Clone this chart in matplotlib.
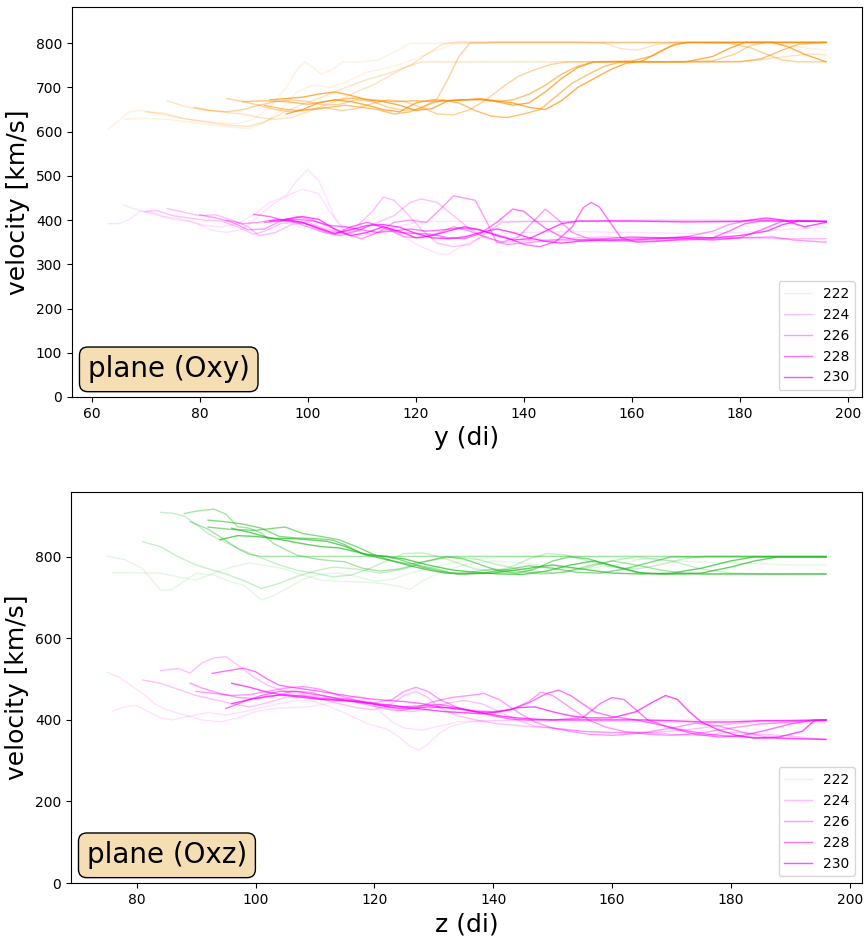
import matplotlib
matplotlib.use("Agg")
import matplotlib.pyplot as plt

times = [222, 224, 226, 228, 230]
alphas = [0.12, 0.25, 0.4, 0.55, 0.7]

# ---- plane (Oxy): high-speed (orange) traces, two per time step ----
oxy_fast = [
    [(63,605),(65,625),(67,645),(69,648),(72,641),(75,633),(78,628),(81,624),(84,620),(87,618),(90,628),(93,655),(96,700),(98,740),(99.5,758),(101,745),(102.5,730),(104.5,740),(106.5,758),(110,758),(113,762),(116,780),(119,800),(196,800)],
    [(66,628),(70,630),(74,628),(78,622),(82,615),(86,610),(89,607),(92,620),(95,650),(98,690),(101,705),(104,700),(107,712),(111,735),(115,745),(119,760),(123,780),(127,798),(130,802),(185,802),(189,796),(193,788),(196,785)],
    [(70,645),(73,642),(77,630),(81,622),(85,615),(89,612),(92,622),(95,640),(99,662),(103,680),(107,700),(111,718),(115,732),(119,750),(122,775),(125,798),(128,803),(150,803),(155,800),(158,788),(161,784),(164,795),(167,802),(196,802)],
    [(74,670),(77,658),(80,650),(84,645),(88,640),(91,632),(94,628),(97,632),(100,645),(103,660),(106,672),(109,690),(112,705),(115,725),(118,745),(121,758),(150,758),(175,758),(182,760),(186,766),(190,772),(193,776),(196,774)],
    [(79,655),(82,648),(85,645),(88,650),(91,660),(94,668),(97,672),(100,668),(103,660),(106,662),(109,672),(112,668),(115,655),(118,648),(121,652),(124,675),(126,720),(128,770),(130,800),(135,802),(160,802),(170,802),(178,800),(182,790),(185,775),(188,762),(191,758),(196,758)],
    [(85,675),(88,668),(91,660),(94,650),(97,645),(100,650),(103,655),(106,648),(109,652),(112,664),(115,672),(118,668),(121,655),(124,640),(127,638),(130,650),(133,672),(136,700),(139,725),(142,740),(145,752),(148,758),(165,758),(175,760),(179,775),(182,795),(185,802),(196,802)],
    [(88,668),(92,670),(96,668),(100,662),(104,670),(108,676),(112,672),(116,668),(120,670),(124,668),(128,672),(132,672),(135,668),(138,672),(141,685),(144,705),(147,730),(150,748),(153,758),(160,760),(164,772),(167,792),(170,802),(196,802)],
    [(92,660),(95,652),(98,648),(101,650),(104,655),(107,660),(110,655),(113,650),(116,640),(119,645),(122,660),(125,672),(128,665),(131,648),(134,635),(137,632),(140,640),(143,650),(146,680),(149,710),(152,730),(155,748),(158,758),(165,758),(180,758),(184,765),(188,785),(191,798),(196,802)],
    [(93,672),(96,675),(99,678),(102,685),(105,690),(108,682),(111,672),(114,668),(117,660),(120,648),(123,652),(126,670),(129,672),(132,674),(135,668),(138,660),(141,665),(144,690),(147,720),(150,745),(153,758),(165,758),(170,758),(175,770),(178,788),(181,802),(186,802),(189,792),(192,775),(196,758)],
    [(96,640),(99,650),(102,665),(105,672),(108,668),(111,660),(114,650),(117,645),(120,665),(123,672),(126,670),(129,672),(132,674),(135,670),(138,665),(141,655),(144,650),(147,670),(150,700),(153,720),(156,740),(159,755),(162,760),(165,780),(168,798),(171,802),(196,802)],
]

# ---- plane (Oxy): low-speed (magenta) traces ----
oxy_slow = [
    [(63,392),(65,392),(67,402),(69,420),(71,418),(73,410),(75,402),(78,397),(81,388),(84,384),(87,392),(90,412),(93,440),(96,455),(98,490),(100,514),(102,490),(103.5,450),(105,405),(107,372),(110,365),(114,375),(118,390),(122,397),(196,397)],
    [(66,434),(68,425),(70,418),(73,408),(76,404),(79,395),(82,378),(85,372),(88,380),(91,410),(94,440),(97,460),(99,470),(102,460),(104,420),(106,390),(109,375),(112,368),(115,380),(118,360),(121,340),(124,325),(126,322),(129,345),(132,360),(136,370),(140,372),(150,374),(160,372),(170,370),(180,372),(190,380),(196,384)],
    [(70,420),(72,422),(75,410),(78,405),(81,400),(84,398),(87,385),(90,368),(92,375),(95,392),(98,395),(101,388),(104,375),(107,370),(110,380),(113,395),(116,410),(119,440),(121,448),(124,440),(127,410),(130,380),(133,360),(136,350),(139,352),(142,355),(146,356),(150,360),(155,362),(160,360),(170,360),(180,360),(190,358),(196,358)],
    [(74,426),(77,418),(80,410),(83,412),(86,400),(89,385),(91,365),(94,372),(97,390),(100,395),(103,382),(106,372),(109,385),(112,420),(114,452),(116,445),(118,420),(121,380),(124,348),(127,340),(130,345),(133,370),(136,395),(140,397),(150,397),(160,400),(175,400),(185,398),(196,397)],
    [(80,412),(83,405),(86,395),(89,378),(92,380),(95,398),(98,408),(101,400),(104,385),(107,368),(110,358),(113,372),(116,395),(119,400),(122,395),(125,430),(127,455),(129,450),(131,445),(133,400),(135,350),(137,345),(140,348),(143,352),(146,355),(150,355),(160,352),(170,355),(180,360),(186,362),(190,355),(196,350)],
    [(85,400),(88,392),(91,395),(94,402),(97,398),(100,385),(103,372),(106,365),(109,375),(112,390),(115,378),(118,362),(121,360),(124,370),(127,385),(130,375),(133,362),(136,350),(139,362),(142,400),(144,425),(146,405),(149,372),(152,358),(156,355),(160,358),(165,360),(170,362),(175,375),(178,390),(182,400),(188,400),(196,397)],
    [(90,413),(93,408),(96,398),(99,395),(102,380),(105,368),(108,385),(111,395),(114,385),(117,372),(120,370),(123,368),(126,360),(129,358),(132,370),(135,395),(138,425),(140,420),(142,400),(144,382),(147,362),(150,355),(155,358),(160,362),(165,360),(170,358),(175,360),(178,375),(181,392),(184,398),(190,398),(196,397)],
    [(92,395),(95,398),(98,402),(101,398),(104,388),(107,385),(110,378),(113,372),(116,376),(119,380),(122,375),(125,378),(128,382),(131,380),(134,370),(137,360),(140,345),(143,340),(146,352),(149,385),(151,428),(152.5,440),(154,430),(156,395),(158,360),(161,350),(165,352),(170,358),(175,355),(180,360),(184,378),(188,398),(196,397)],
    [(93,398),(96,402),(99,408),(102,402),(105,380),(108,365),(111,372),(114,385),(117,375),(120,360),(123,365),(126,375),(129,385),(132,378),(135,365),(138,355),(141,358),(144,375),(147,392),(150,398),(160,398),(170,396),(180,397),(185,405),(188,400),(192,385),(196,395)],
    [(96,402),(99,395),(102,382),(105,370),(108,378),(111,388),(114,390),(117,384),(120,370),(123,360),(126,358),(129,362),(132,372),(135,380),(138,372),(141,360),(144,352),(147,348),(150,352),(155,355),(160,355),(165,358),(170,362),(175,360),(180,365),(185,375),(188,390),(191,398),(196,397)],
]

# ---- plane (Oxz): high-speed (green) traces ----
oxz_fast = [
    [(75,802),(78,793),(81,771),(84,718),(86,720),(88,740),(90,760),(93,755),(96,738),(98,731),(101,694),(103,705),(105,720),(108,745),(111,758),(114,760),(117,752),(120,740),(123,745),(126,760),(130,775),(135,790),(140,798),(150,802),(160,798),(170,790),(180,785),(190,780),(196,780)],
    [(76,761),(80,761),(84,760),(88,748),(90,743),(93,760),(96,775),(99,785),(102,778),(105,770),(108,755),(111,743),(114,740),(118,738),(121,735),(124,728),(126,720),(128,740),(131,762),(135,780),(140,790),(145,785),(150,775),(155,770),(160,778),(165,795),(170,800),(180,800),(196,800)],
    [(81,837),(84,825),(87,800),(90,780),(92,771),(95,758),(98,742),(101,722),(104,735),(107,752),(110,765),(113,775),(117,770),(121,760),(125,770),(129,790),(133,800),(137,795),(141,780),(145,768),(150,760),(155,770),(160,790),(164,800),(170,790),(175,770),(180,760),(185,758),(196,758)],
    [(84,909),(86,907),(88,900),(90,880),(92,857),(95,835),(98,815),(100.5,800),(104,780),(107,767),(110,760),(113,751),(116,755),(119,770),(122,790),(125,808),(128,810),(131,800),(134,785),(137,770),(140,765),(143,775),(146,795),(149,808),(152,805),(156,790),(160,775),(164,770),(168,780),(172,795),(176,802),(185,802),(196,802)],
    [(88,906),(90,912),(93,917),(95,905),(97,874),(99,870),(101,858),(103,833),(105,818),(107,804),(110,795),(113,790),(115,788),(118,772),(121,765),(124,770),(127,780),(130,772),(133,760),(136,762),(140,770),(144,765),(148,758),(152,762),(156,778),(160,790),(164,780),(168,768),(172,760),(176,758),(196,758)],
    [(89,886),(92,868),(95,840),(97,820),(99,806),(101,801),(196,801)],
    [(92,890),(95,886),(98,880),(101,870),(104,850),(107,846),(110,845),(113,841),(115,830),(117,815),(118.6,804),(122,802),(125,790),(128,775),(131,765),(134,758),(138,760),(142,768),(146,778),(150,772),(154,762),(158,760),(162,770),(166,785),(170,800),(196,800)],
    [(92,873),(96,867),(100,865),(103,870),(105,873),(108,857),(111,850),(114,842),(117,825),(120,805),(123,790),(126,782),(129,790),(132,800),(135,795),(138,780),(141,765),(144,760),(147,770),(150,790),(153,800),(156,795),(160,778),(164,762),(168,758),(196,758)],
    [(94,842),(97,852),(100,850),(103,845),(106,845),(109,842),(112,838),(115,826),(118,808),(121,802),(125,795),(129,780),(133,768),(137,762),(141,758),(145,757),(149,765),(153,780),(157,790),(161,775),(165,760),(169,758),(175,760),(180,775),(184,790),(188,800),(196,800)],
    [(96,870),(99,860),(102,848),(105,840),(108,832),(111,825),(114,822),(117,812),(120,800),(123,790),(126,778),(129,768),(132,760),(135,758),(140,760),(145,770),(150,780),(155,770),(160,760),(165,758),(170,760),(175,772),(180,790),(184,800),(190,800),(196,800)],
]

# ---- plane (Oxz): low-speed (magenta) traces ----
oxz_slow = [
    [(75,517),(77,505),(79,485),(81,465),(83,440),(85,425),(88,412),(91,400),(94,395),(97,405),(100,420),(103,428),(106,430),(109,432),(112,440),(115,450),(117,460),(119,450),(121,420),(123,395),(125,380),(128,375),(131,385),(134,395),(138,398),(145,400),(160,400),(180,400),(196,400)],
    [(76,422),(78,432),(80,435),(82,420),(84,405),(86,400),(89,410),(92,418),(95,412),(98,420),(101,430),(104,440),(107,448),(110,445),(113,430),(116,410),(119,390),(122,378),(124,360),(126,335),(127.5,326),(129,340),(131,368),(133,385),(136,395),(140,398),(150,398),(165,395),(180,392),(196,392)],
    [(81,498),(84,490),(87,475),(90,460),(93,450),(96,440),(99,432),(102,442),(105,455),(108,460),(111,452),(114,440),(117,430),(120,425),(123,440),(125,460),(127,470),(129,455),(131,430),(134,410),(137,400),(140,392),(145,385),(150,380),(155,372),(160,368),(165,370),(170,365),(175,362),(180,370),(185,365),(190,360),(196,352)],
    [(84,521),(87,526),(89,515),(91,540),(93,552),(95,555),(97,535),(99.6,506),(102,485),(105,470),(108,462),(111,455),(114,448),(117,445),(120,440),(123,430),(126,420),(129,425),(132,440),(135,448),(138,440),(141,420),(144,400),(147,385),(150,380),(155,372),(160,370),(165,368),(170,372),(175,380),(180,390),(185,398),(196,400)],
    [(89,490),(91,478),(94,465),(97,455),(100,452),(103,458),(106,470),(109,468),(112,458),(115,448),(118,440),(121,430),(124,422),(127,430),(130,445),(133,455),(136,460),(138.4,465),(141,450),(144,420),(147,395),(150,380),(153,372),(156,365),(160,362),(165,368),(170,380),(174,392),(178,385),(182,370),(186,358),(190,355),(196,352)],
    [(90,470),(93,465),(96,460),(99,462),(102,470),(105,478),(108,482),(111,475),(114,460),(117,448),(120,442),(123,450),(125,470),(127,480),(129,470),(131,450),(134,430),(137,420),(140,418),(143,425),(146,445),(148,468),(150,460),(153,430),(156,400),(159,382),(162,372),(166,365),(170,362),(175,368),(180,380),(185,390),(190,395),(196,398)],
    [(92.7,514),(95,520),(98,527),(100,518),(102,500),(104,485),(107,478),(110,472),(113,465),(116,458),(119,452),(122,448),(125,445),(128,440),(131,432),(134,428),(137,422),(140,420),(143,425),(146,442),(149,465),(151,473),(153,460),(155,440),(157,420),(160,408),(164,400),(168,388),(172,375),(176,365),(180,360),(185,356),(190,354),(196,352)],
    [(95,428),(98,445),(101,460),(104,470),(107,470),(110,462),(113,455),(116,450),(119,442),(122,435),(125,432),(128,435),(131,438),(134,430),(137,420),(140,410),(143,402),(146,400),(150,400),(155,405),(158,440),(160,455),(162,450),(164,425),(166,400),(170,380),(174,365),(178,358),(182,362),(186,375),(190,390),(194,400),(196,400)],
    [(96,440),(99,450),(102,458),(105,462),(108,458),(111,452),(114,450),(117,445),(120,440),(123,436),(126,430),(129,425),(132,420),(135,418),(138,415),(141,420),(144,430),(147,432),(150,420),(153,410),(156,405),(160,405),(164,420),(167,445),(169,460),(171,450),(173,420),(175,395),(178,375),(181,362),(184,355),(188,358),(192,372),(194,398),(196,400)],
    [(96,490),(99,480),(102,468),(105,460),(108,455),(111,450),(114,448),(117,445),(120,438),(123,430),(126,428),(129,432),(132,430),(135,425),(138,418),(141,410),(144,405),(147,402),(150,400),(155,400),(160,400),(165,400),(170,398),(175,395),(180,395),(185,398),(190,398),(196,400)],
]

fast_colors = ["darkorange", "#22bb22"]
slow_color = "magenta"

fig = plt.figure(figsize=(8.65, 9.46), dpi=100)
ax1 = fig.add_axes([72/865, 1-397/946, 790/865, 390/946])
ax2 = fig.add_axes([71/865, 1-883/946, 791/865, 391/946])

panels = [
    (ax1, oxy_fast, oxy_slow, fast_colors[0], "y (di)", "plane (Oxy)", 882),
    (ax2, oxz_fast, oxz_slow, fast_colors[1], "z (di)", "plane (Oxz)", 959),
]

for ax, fast, slow, fcol, xlabel, name, ytop in panels:
    for i, line in enumerate(fast):
        t = i // 2
        xs = [p[0] for p in line]
        vs = [p[1] for p in line]
        ax.plot(xs, vs, color=fcol, alpha=alphas[t], lw=1.0)
    for i, line in enumerate(slow):
        t = i // 2
        xs = [p[0] for p in line]
        vs = [p[1] for p in line]
        ax.plot(xs, vs, color=slow_color, alpha=alphas[t], lw=1.0,
                label=str(times[t]) if i % 2 == 0 else None)
    ax.set_ylim(0, ytop)
    ax.set_xlabel(xlabel, fontsize=18)
    ax.set_ylabel("velocity [km/s]", fontsize=18)
    ax.tick_params(labelsize=10)
    ax.legend(loc="lower right", fontsize=10)
    ax.text(0.02, 0.035, name, transform=ax.transAxes, fontsize=20,
            ha="left", va="bottom",
            bbox=dict(boxstyle="round", facecolor="wheat", edgecolor="black"))

fig.savefig("out.png", dpi=100)
